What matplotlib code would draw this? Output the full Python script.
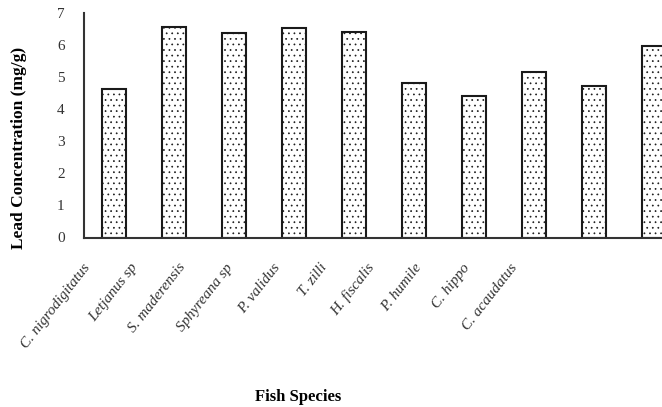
import numpy as np
import matplotlib.pyplot as plt

species = ["C. nigrodigitatus", "Letjanus sp", "S. maderensis", "Sphyreana sp",
           "P. validus", "T. zilli", "H. fiscalis", "P. humile", "C. hippo",
           "C. acaudatus"]
lead = [4.62, 6.57, 6.39, 6.54, 6.41, 4.82, 4.40, 5.15, 4.72, 5.98]

plt.rcParams["font.family"] = ["Liberation Serif", "DejaVu Serif"]
plt.rcParams["hatch.color"] = "#a0a0a0"
plt.rcParams["hatch.linewidth"] = 0.5

fig = plt.figure(figsize=(6.62, 4.07), dpi=100)
# axes extends past the right edge of the figure, as in the source image
ax = fig.add_axes([84 / 662, 169.5 / 407, 600 / 662, 224.5 / 407])

x = np.arange(len(species))
ax.bar(x, lead, width=0.4, color="white", edgecolor="#1a1a1a",
       linewidth=1.5, hatch="...")

ax.set_xlim(-0.5, len(species) - 0.5)
ax.set_ylim(0, 7)
ax.set_yticks(range(0, 8))
ax.tick_params(axis="y", length=0, pad=14, labelsize=11, colors="#333333")

# category labels sit on a tighter spacing than the bars in the original
label_pos = -0.35 + 0.79 * x
ax.set_xticks(label_pos, species, rotation=52, ha="right",
              fontstyle="italic", fontsize=11)
ax.tick_params(axis="x", length=0, pad=17, colors="#333333")

for s in ["top", "right"]:
    ax.spines[s].set_visible(False)
for s in ["left", "bottom"]:
    ax.spines[s].set_linewidth(1.5)
    ax.spines[s].set_color("#333333")

ax.set_ylabel("Lead Concentration (mg/g)", fontweight="bold", fontsize=12.5)
ax.yaxis.set_label_coords(-0.095, 0.40)
fig.text(298 / 662, 1 - 397 / 407, "Fish Species", fontweight="bold",
         fontsize=12, ha="center", va="center")

fig.savefig("out.png", dpi=100)
